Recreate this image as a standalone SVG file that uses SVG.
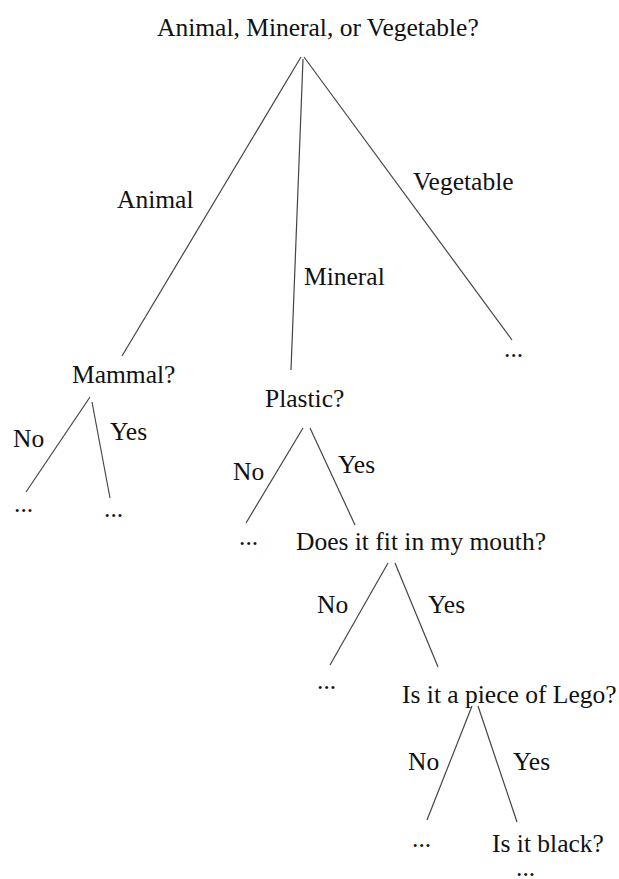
<svg xmlns="http://www.w3.org/2000/svg" width="619" height="879" viewBox="0 0 619 879">
  <style>
    text { font-family: "Liberation Serif", "Times New Roman", serif; font-size: 25.5px; fill: #111; }
    .edge { stroke: #444; stroke-width: 1.2; fill: none; }
  </style>
  <rect width="619" height="879" fill="#fff"/>

  <!-- branches -->
  <g id="connectors">
    <line class="edge" x1="301" y1="57" x2="122" y2="356"/>
    <line class="edge" x1="303" y1="59" x2="291" y2="370"/>
    <line class="edge" x1="304" y1="57" x2="512" y2="340"/>

    <line class="edge" x1="90" y1="397" x2="26" y2="492"/>
    <line class="edge" x1="92" y1="402" x2="110" y2="498"/>

    <line class="edge" x1="303" y1="428" x2="246" y2="523"/>
    <line class="edge" x1="310" y1="428" x2="355" y2="525"/>

    <line class="edge" x1="388" y1="563" x2="330" y2="665"/>
    <line class="edge" x1="395" y1="563" x2="438" y2="667"/>

    <line class="edge" x1="472" y1="706" x2="427" y2="820"/>
    <line class="edge" x1="478" y1="706" x2="517" y2="822"/>
  </g>

  <!-- branch labels -->
  <g id="edge-labels">
    <text x="117" y="208">Animal</text>
    <text x="304" y="285">Mineral</text>
    <text x="413" y="190">Vegetable</text>
    <text x="13" y="447">No</text>
    <text x="110" y="440">Yes</text>
    <text x="233" y="480">No</text>
    <text x="338" y="473">Yes</text>
    <text x="317" y="613">No</text>
    <text x="428" y="613">Yes</text>
    <text x="408" y="770">No</text>
    <text x="513" y="770">Yes</text>
  </g>

  <g id="root"><text x="157" y="36">Animal, Mineral, or Vegetable?</text></g>
  <g id="vegetable-leaf"><text x="504" y="357">...</text></g>
  <g id="mammal"><text x="72" y="383">Mammal?</text></g>
  <g id="mammal-no"><text x="14" y="512">...</text></g>
  <g id="mammal-yes"><text x="104" y="517">...</text></g>
  <g id="plastic"><text x="265" y="407">Plastic?</text></g>
  <g id="plastic-no"><text x="239" y="545">...</text></g>
  <g id="mouth"><text x="296" y="550">Does it fit in my mouth?</text></g>
  <g id="mouth-no"><text x="317" y="689">...</text></g>
  <g id="lego"><text x="402" y="703">Is it a piece of Lego?</text></g>
  <g id="lego-no"><text x="412" y="847">...</text></g>
  <g id="black"><text x="492" y="852">Is it black?</text></g>
  <g id="black-leaf"><text x="516" y="876">...</text></g>
</svg>
